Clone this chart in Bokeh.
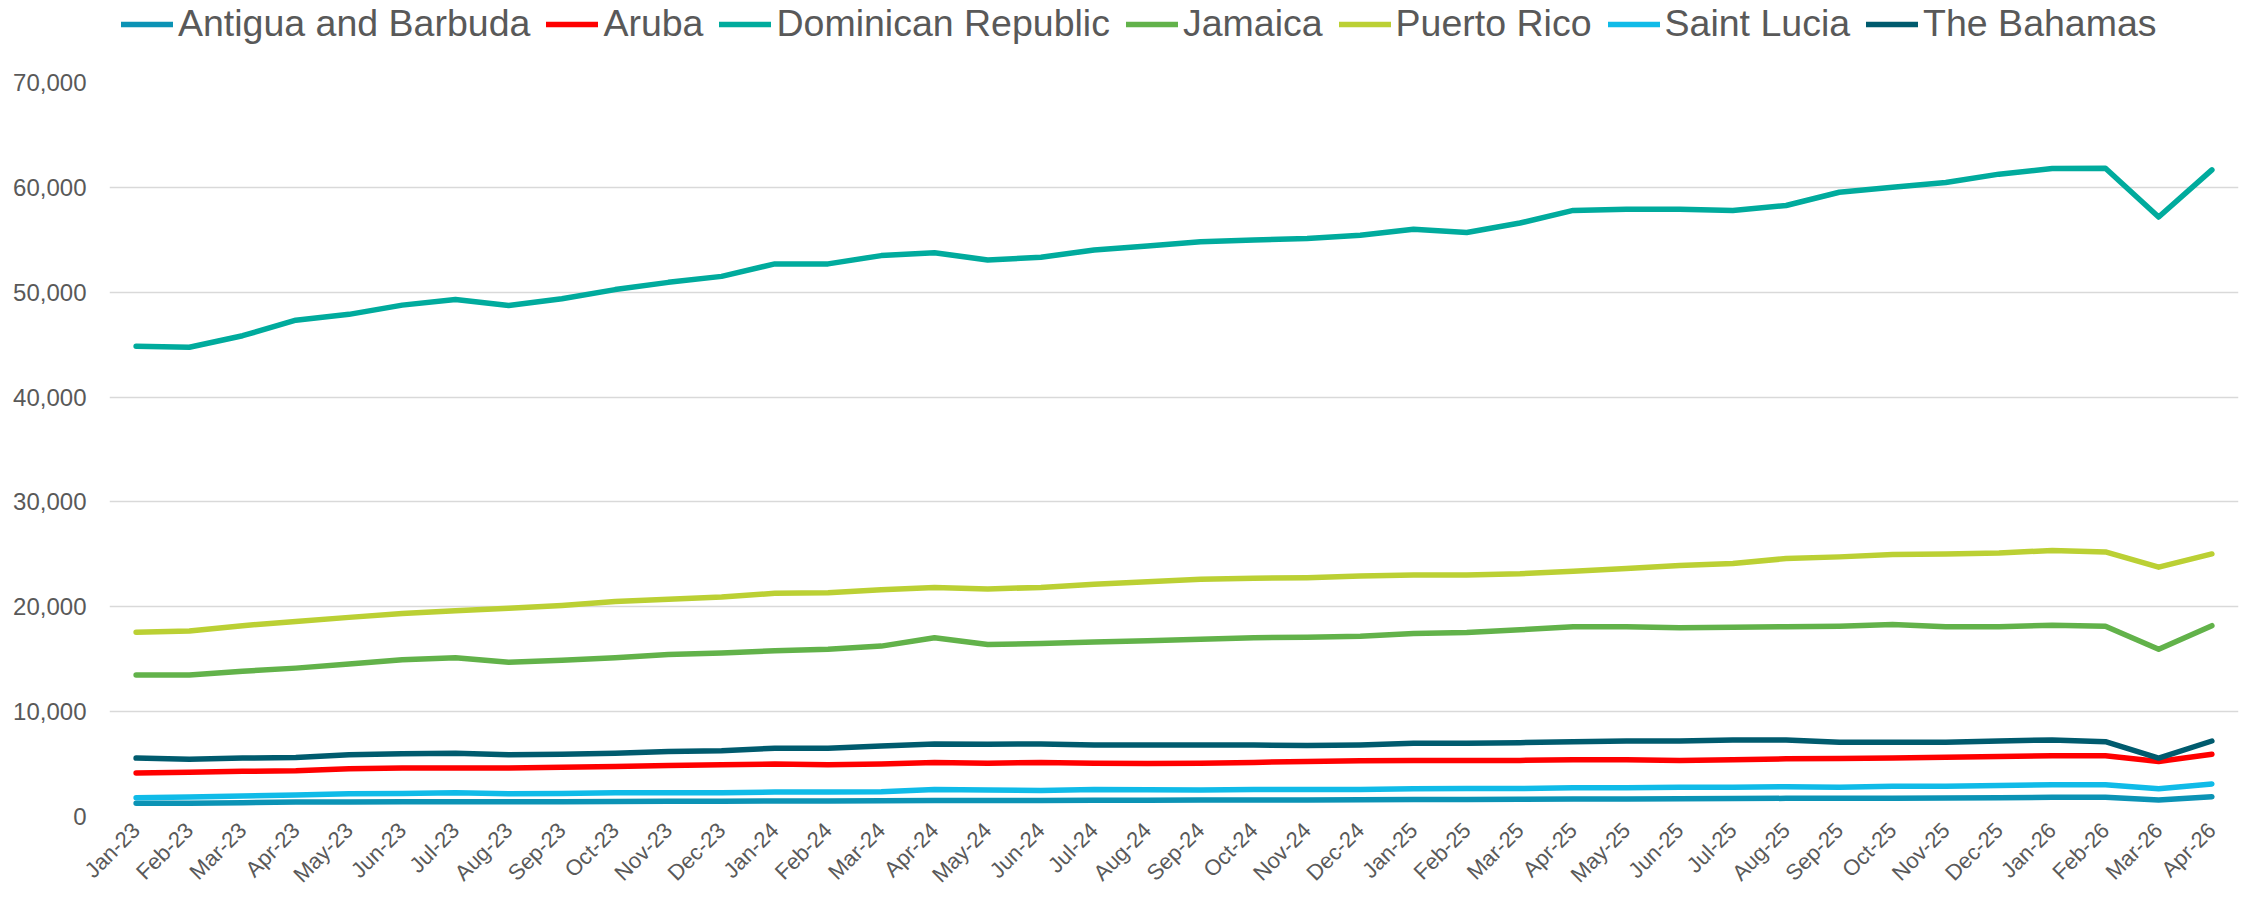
import math
from bokeh.plotting import figure
from bokeh.layouts import column
from bokeh.models import (FactorRange, Range1d, Legend, LegendItem, NumeralTickFormatter,
                          SingleIntervalTicker)
from bokeh.embed import file_html
from bokeh.resources import INLINE

months = ["Jan-23", "Feb-23", "Mar-23", "Apr-23", "May-23", "Jun-23", "Jul-23", "Aug-23",
          "Sep-23", "Oct-23", "Nov-23", "Dec-23", "Jan-24", "Feb-24", "Mar-24", "Apr-24",
          "May-24", "Jun-24", "Jul-24", "Aug-24", "Sep-24", "Oct-24", "Nov-24", "Dec-24",
          "Jan-25", "Feb-25", "Mar-25", "Apr-25", "May-25", "Jun-25", "Jul-25", "Aug-25",
          "Sep-25", "Oct-25", "Nov-25", "Dec-25", "Jan-26", "Feb-26", "Mar-26", "Apr-26"]

antigua = [1260, 1260, 1320, 1380, 1380, 1410, 1410, 1400, 1410, 1430, 1450, 1460, 1480, 1490,
           1500, 1530, 1530, 1520, 1550, 1560, 1570, 1580, 1580, 1590, 1610, 1620, 1640, 1660,
           1680, 1700, 1720, 1730, 1740, 1750, 1760, 1790, 1830, 1840, 1570, 1880]
aruba = [4150, 4210, 4310, 4370, 4560, 4620, 4620, 4620, 4690, 4780, 4870, 4940, 5000, 4940,
         5000, 5160, 5090, 5160, 5090, 5050, 5090, 5160, 5250, 5310, 5350, 5350, 5350, 5410,
         5410, 5350, 5410, 5500, 5530, 5570, 5660, 5720, 5790, 5790, 5250, 5940]
dominican = [44840, 44750, 45850, 47330, 47890, 48770, 49300, 48740, 49370, 50250, 50940, 51510,
             52700, 52700, 53490, 53770, 53080, 53330, 54030, 54400, 54810, 54970, 55130, 55440,
             56000, 55690, 56600, 57800, 57920, 57920, 57800, 58270, 59530, 60000, 60470, 61260,
             61790, 61820, 57170, 61670]
jamaica = [13500, 13500, 13850, 14150, 14550, 14950, 15150, 14700, 14900, 15150, 15450, 15600,
           15800, 15950, 16250, 17050, 16400, 16500, 16650, 16750, 16900, 17050, 17100, 17200,
           17450, 17550, 17800, 18100, 18100, 18000, 18050, 18100, 18150, 18300, 18100, 18100,
           18250, 18150, 15950, 18200]
puerto_rico = [17580, 17700, 18200, 18600, 18990, 19350, 19620, 19850, 20120, 20500, 20720, 20940,
               21280, 21350, 21620, 21850, 21700, 21850, 22150, 22380, 22620, 22720, 22780, 22930,
               23030, 23030, 23150, 23400, 23650, 23930, 24130, 24600, 24760, 24980, 25040, 25140,
               25360, 25230, 23780, 25040]
saint_lucia = [1790, 1855, 1950, 2040, 2170, 2200, 2260, 2170, 2200, 2260, 2260, 2260, 2330, 2330,
               2360, 2580, 2520, 2480, 2580, 2550, 2520, 2580, 2580, 2580, 2640, 2670, 2670, 2740,
               2740, 2800, 2800, 2830, 2800, 2890, 2890, 2960, 3020, 3020, 2640, 3110]
bahamas = [5570, 5470, 5570, 5630, 5880, 5975, 6040, 5880, 5940, 6040, 6200, 6260, 6510, 6510,
           6730, 6920, 6890, 6920, 6820, 6810, 6820, 6820, 6760, 6820, 6980, 6980, 7040, 7140,
           7200, 7200, 7300, 7300, 7080, 7080, 7080, 7200, 7300, 7140, 5570, 7200]

series_names = ["Antigua and Barbuda", "Aruba", "Dominican Republic", "Jamaica",
                "Puerto Rico", "Saint Lucia", "The Bahamas"]
series_values = [antigua, aruba, dominican, jamaica, puerto_rico, saint_lucia, bahamas]
series_colors = ["#0B93B5", "#FF0000", "#00AB9D", "#62B24A", "#BBD034", "#10BBE8", "#005B6E"]

LEG_H = 70

# ---- legend strip (its frame is aligned with the chart's frame by the column) ----
lf = figure(width=2251, height=LEG_H, x_range=Range1d(0, 1), y_range=Range1d(0, 1),
            output_backend="svg", toolbar_location=None, title=None,
            min_border_left=109, min_border_right=13, min_border_top=0, min_border_bottom=0)
lf.axis.visible = False
lf.grid.visible = False
lf.outline_line_color = None
lf.background_fill_color = "white"
lf.border_fill_color = "white"
items = []
for name, col in zip(series_names, series_colors):
    # proxy renderers placed outside the visible range; only their legend glyphs show
    r = lf.line(x=[5, 6], y=[5, 6], line_color=col, line_width=5.5, line_cap="round")
    items.append(LegendItem(label=name, renderers=[r]))
legend = Legend(items=items, orientation="horizontal", location=(12, 25),
                label_text_font="Liberation Sans", label_text_font_size="37.5px",
                label_text_color="#595959", glyph_width=52, glyph_height=20,
                label_standoff=5, spacing=16, padding=0, margin=0,
                border_line_color=None, background_fill_alpha=0)
lf.add_layout(legend)

# ---- main chart ----
p = figure(width=2251, height=899 - LEG_H, x_range=FactorRange(*months),
           y_range=Range1d(0, 70000),
           output_backend="svg", toolbar_location=None, title=None,
           min_border_left=109, min_border_right=13, min_border_top=82 - LEG_H,
           min_border_bottom=78)
p.outline_line_color = None
p.background_fill_color = "white"
p.border_fill_color = "white"

for vals, col in zip(series_values, series_colors):
    p.line(x=months, y=vals, line_color=col, line_width=5.5,
           line_cap="round", line_join="round")

p.xgrid.grid_line_color = None
p.ygrid.grid_line_color = "#D9D9D9"
p.ygrid.grid_line_width = 1.5

p.yaxis.ticker = SingleIntervalTicker(interval=10000)
p.yaxis.formatter = NumeralTickFormatter(format="0,0")
for ax in (p.xaxis[0], p.yaxis[0]):
    ax.axis_line_color = None
    ax.major_tick_line_color = None
    ax.minor_tick_line_color = None
    ax.major_tick_in = 0
    ax.major_tick_out = 0
    ax.major_label_text_color = "#595959"
    ax.major_label_text_font = "Liberation Sans"
p.yaxis.major_label_text_font_size = "24px"
p.yaxis.major_label_standoff = 19
p.xaxis.major_label_text_font_size = "22px"
p.xaxis.major_label_orientation = math.pi / 4
p.xaxis.major_label_standoff = 10

layout = column(lf, p, spacing=0)
open("out.html", "w").write(file_html(layout, INLINE))
